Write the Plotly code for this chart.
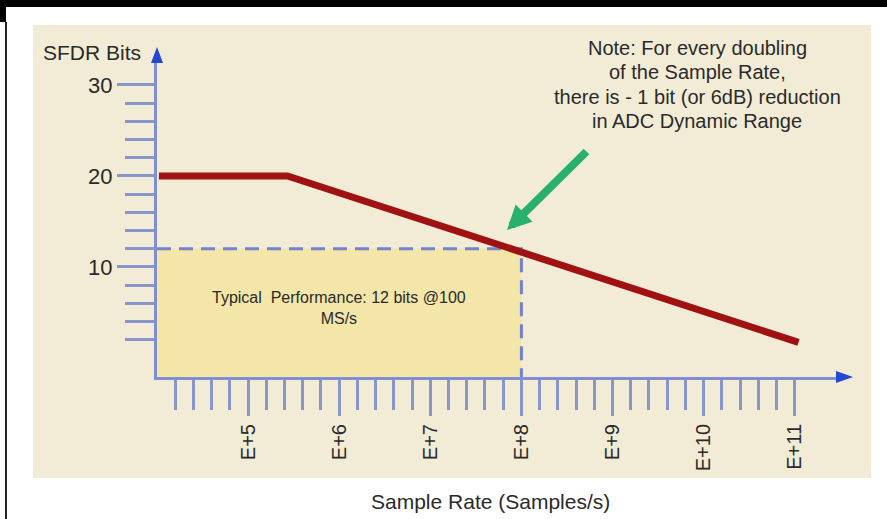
import plotly.graph_objects as go

# ---------------- data ----------------
sample_rate = [1.05e4, 2.7e5, 1.1e11]      # samples/s
sfdr_bits = [20, 20, 1.7]                  # bits

typical_rate = 1e8
typical_bits = 12
axis_min_rate = 1e4
y_min = -2.1

x_tick_vals = [1e5, 1e6, 1e7, 1e8, 1e9, 1e10, 1e11]
x_tick_text = ["E+5", "E+6", "E+7", "E+8", "E+9", "E+10", "E+11"]
x_minor_vals = [10 ** (e / 5) for e in range(21, 55) if e % 5]
y_tick_vals = [10, 20, 30]
y_minor_vals = [2, 4, 6, 8, 12, 14, 16, 18, 22, 24, 26, 28]

note_lines = ["Note: For every doubling",
              "of the Sample Rate,",
              "there is - 1 bit (or 6dB) reduction",
              "in ADC Dynamic Range"]

# ---------------- layout geometry ----------------
W, H = 887, 519
L, R, T, B = 157, 838, 60, 377
PW, PH = R - L, B - T


def px(x):
    return (x - L) / PW


def py(y):
    return (B - y) / PH


FONT = "Liberation Sans, Arial, sans-serif"
TXT = "#2a2a2a"
AXIS_COL = "#7f8fd2"
TICK_COL = "#8896cc"
ARROW_COL = "#2448d2"

fig = go.Figure()

# typical performance region
fig.add_trace(go.Scatter(
    x=[axis_min_rate, typical_rate, typical_rate, axis_min_rate],
    y=[y_min, y_min, typical_bits, typical_bits],
    fill="toself", fillcolor="#f3e6a8", mode="none",
    hoverinfo="skip", showlegend=False))
fig.add_trace(go.Scatter(
    x=[axis_min_rate, typical_rate, typical_rate],
    y=[typical_bits, typical_bits, y_min],
    mode="lines", line=dict(color="#7282cc", width=3, dash="14px,8px"),
    hoverinfo="skip", showlegend=False))
# SFDR curve
fig.add_trace(go.Scatter(
    x=sample_rate, y=sfdr_bits, mode="lines",
    line=dict(color="#a01212", width=7),
    showlegend=False))

shapes = [
    # beige panel
    dict(type="rect", xref="paper", yref="paper", layer="below",
         x0=px(33), x1=px(871), y0=py(478), y1=py(25),
         fillcolor="#f2ecd6", line=dict(width=0)),
    # black frame bits
    dict(type="rect", xref="paper", yref="paper",
         x0=px(0), x1=px(W), y0=py(7), y1=py(0),
         fillcolor="black", line=dict(width=0)),
    dict(type="rect", xref="paper", yref="paper",
         x0=px(0), x1=px(6), y0=py(22), y1=py(7),
         fillcolor="black", line=dict(width=0)),
    dict(type="rect", xref="paper", yref="paper",
         x0=px(5), x1=px(7), y0=py(H), y1=py(22),
         fillcolor="#222222", line=dict(width=0)),
    # axis arrow heads
    dict(type="path", xref="paper", yref="paper",
         path=f"M{px(L)},{py(47)} L{px(L-6)},{py(63)} L{px(L+6)},{py(63)} Z",
         fillcolor=ARROW_COL, line=dict(width=0)),
    dict(type="path", xref="paper", yref="paper",
         path=f"M{px(853)},{py(B)} L{px(836)},{py(B-6)} L{px(836)},{py(B+6)} Z",
         fillcolor=ARROW_COL, line=dict(width=0)),
]

annotations = [
    dict(text="SFDR Bits", xref="paper", yref="paper", x=px(92), y=py(53),
         showarrow=False, xanchor="center", yanchor="middle",
         font=dict(family=FONT, size=21, color=TXT)),
    dict(text="Sample Rate (Samples/s)", xref="paper", yref="paper",
         x=px(490), y=py(501), showarrow=False, xanchor="center",
         yanchor="middle", font=dict(family=FONT, size=21, color=TXT)),
    dict(text="Typical  Performance: 12 bits @100<br>MS/s", xref="paper",
         yref="paper", x=px(339), y=py(308), showarrow=False,
         xanchor="center", yanchor="middle",
         font=dict(family=FONT, size=16, color=TXT)),
    # green pointer arrow
    dict(text="", xref="paper", yref="paper", x=px(507), y=py(230),
         ax=81, ay=-80, showarrow=True, arrowhead=2, arrowwidth=8,
         arrowsize=0.6, arrowcolor="#29b06c"),
]
for line, yc in zip(note_lines, [48, 72, 97, 121]):
    annotations.append(dict(text=line, xref="paper", yref="paper",
                            x=px(697), y=py(yc), showarrow=False,
                            xanchor="center", yanchor="middle",
                            font=dict(family=FONT, size=20, color=TXT)))

fig.update_layout(
    width=W, height=H, autosize=False,
    margin=dict(l=L, r=W - R, t=T, b=H - B, pad=0),
    paper_bgcolor="white", plot_bgcolor="rgba(0,0,0,0)",
    shapes=shapes, annotations=annotations,
    xaxis=dict(type="log", range=[4, 4 + PW / 91.1], automargin=False,
               showgrid=False, zeroline=False,
               showline=True, linecolor=AXIS_COL, linewidth=3,
               ticks="outside", ticklen=36, tickwidth=3, tickcolor=TICK_COL,
               tickmode="array", tickvals=x_tick_vals, ticktext=x_tick_text,
               tickangle=-90,
               tickfont=dict(family=FONT, size=20, color=TXT),
               minor=dict(tickmode="array", tickvals=x_minor_vals,
                          ticks="outside", ticklen=30, tickwidth=3,
                          tickcolor=TICK_COL, showgrid=False)),
    yaxis=dict(range=[y_min, y_min + PH / 9.1], automargin=False,
               showgrid=False, zeroline=False,
               showline=True, linecolor=AXIS_COL, linewidth=3,
               ticks="outside", ticklen=37, tickwidth=3, tickcolor=TICK_COL,
               tickmode="array", tickvals=y_tick_vals,
               tickfont=dict(family=FONT, size=22, color=TXT),
               minor=dict(tickmode="array", tickvals=y_minor_vals,
                          ticks="outside", ticklen=29, tickwidth=3,
                          tickcolor=TICK_COL, showgrid=False)),
)

fig.write_html("out.html",
               config={"displayModeBar": False},
               post_script="document.body.style.margin='0px';"
                           "document.body.style.overflow='hidden';")
